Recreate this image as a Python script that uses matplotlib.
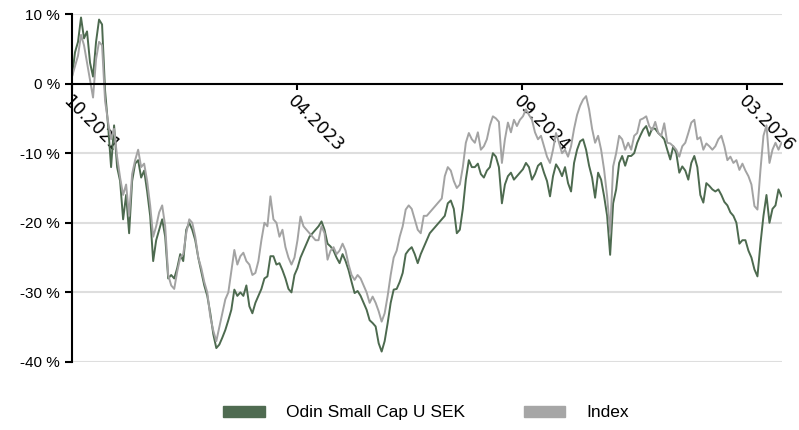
import matplotlib.pyplot as plt
import pandas as pd

plt.rcParams['font.family'] = ['Liberation Sans', 'DejaVu Sans']

# Utveckling i procent (jämnt fördelade datum)
start_datum = '2021-10-25'
slut_datum = '2026-06-05'

odin = [
    1.0, 4.5, 6.0, 9.5, 6.5, 7.5, 3.0, 1.0, 6.0, 9.2,
    8.5, -1.0, -6.0, -12.0, -6.0, -12.0, -14.0, -19.5, -16.0, -21.5,
    -14.0, -11.5, -11.0, -13.5, -12.5, -15.5, -19.0, -25.5, -22.5, -21.0,
    -19.5, -22.0, -28.0, -27.5, -28.0, -26.5, -24.5, -25.5, -21.0, -20.0,
    -21.0, -22.5, -25.0, -27.0, -29.0, -30.5, -33.0, -36.0, -38.0, -37.5,
    -36.5, -35.4, -34.0, -32.5, -29.6, -30.5, -30.0, -30.5, -29.0, -32.0,
    -33.0, -31.5, -30.5, -29.5, -28.0, -27.7, -24.8, -24.8, -26.0, -25.8,
    -26.8, -28.0, -29.5, -30.0, -27.5, -26.5, -25.0, -24.0, -23.0, -22.0,
    -21.5, -21.0, -20.5, -19.8, -21.0, -23.0, -23.4, -24.0, -25.0, -25.8,
    -24.5, -25.5, -26.8, -28.5, -30.1, -29.8, -30.5, -31.5, -32.5, -34.0,
    -34.4, -34.9, -37.3, -38.5, -37.0, -34.4, -31.5, -29.6, -29.5, -28.5,
    -27.2, -24.5, -23.9, -23.5, -24.5, -25.8, -24.5, -23.5, -22.5, -21.5,
    -21.0, -20.5, -20.0, -19.5, -19.0, -17.2, -16.8, -18.0, -21.5, -21.0,
    -18.0, -13.8, -11.0, -12.0, -12.0, -11.5, -13.0, -13.5, -12.5, -12.0,
    -10.0, -10.5, -12.0, -17.2, -14.5, -13.3, -12.8, -13.8, -13.3, -12.8,
    -12.3, -11.4, -12.0, -13.8, -13.0, -11.8, -11.4, -12.8, -14.0, -16.2,
    -13.3, -11.6, -12.3, -13.3, -12.0, -14.3, -15.5, -11.4, -9.5, -8.3,
    -8.0, -9.5, -11.8, -13.5, -16.4, -12.8, -13.8, -16.2, -19.0, -24.6,
    -17.2, -15.2, -11.4, -10.4, -11.8, -10.4, -10.4, -10.0, -8.5, -7.5,
    -6.6, -6.1, -7.5, -6.4, -6.5, -7.1, -7.5, -8.0, -9.5, -10.9,
    -9.0, -10.0, -12.8, -11.9, -12.5, -13.8, -11.4, -10.4, -12.0, -16.0,
    -17.1, -14.3, -14.7, -15.2, -15.5, -15.2, -16.0, -17.0, -17.5, -18.5,
    -19.0, -20.0, -23.0, -22.5, -22.5, -24.0, -25.0, -26.7, -27.7, -23.0,
    -19.0, -16.0, -20.0, -18.0, -17.5, -15.2, -16.2,
]

index = [
    1.0, 2.5, 4.0, 7.0, 5.5, 3.0, 0.5, -2.0, 3.5, 6.0,
    5.5, -2.5, -5.5, -8.0, -6.5, -10.5, -13.5, -16.0, -14.5, -19.0,
    -13.0, -11.0, -9.5, -12.0, -11.5, -14.0, -17.5, -22.0, -20.5, -18.5,
    -17.5, -20.5, -27.5, -29.0, -29.5, -27.0, -25.0, -24.5, -21.5, -19.5,
    -20.0, -22.0, -25.0, -26.5, -28.5, -30.0, -33.5, -35.5, -37.0, -35.0,
    -33.0, -31.0, -30.0, -27.0, -23.9, -26.0, -24.8, -24.3, -25.5, -26.0,
    -27.5, -27.2, -25.5, -22.5, -20.0, -20.5, -16.2, -19.5, -20.0, -22.0,
    -21.0, -23.5, -25.0, -26.0, -25.0, -22.5, -19.1, -20.5, -21.0, -21.5,
    -22.0, -22.5, -22.5, -20.5, -21.5, -25.3, -24.0, -23.5, -24.5, -24.0,
    -23.0, -24.0, -26.0, -27.5, -28.2, -27.5, -28.0, -29.0, -30.0, -31.5,
    -30.6, -31.5, -32.7, -34.2, -33.0, -30.5, -27.5, -25.0, -24.0, -22.0,
    -20.5, -18.1, -17.5, -18.0, -19.5, -21.0, -21.5, -19.0, -19.0, -18.5,
    -18.0, -17.5, -17.0, -16.5, -13.3, -12.0, -12.5, -14.0, -15.0, -14.5,
    -12.0, -8.5, -7.1, -8.0, -8.5, -7.0, -9.5, -9.0, -8.0, -6.0,
    -4.7, -5.0, -5.5, -11.4, -8.0, -5.6, -7.0, -5.2, -6.1, -5.2,
    -4.7, -3.7, -4.5, -5.2, -7.0, -8.0, -7.5, -9.0, -10.5, -11.4,
    -9.5, -7.1, -8.5, -10.0, -9.5, -10.5, -9.0, -6.5, -4.5, -3.2,
    -2.3, -1.8, -3.7, -6.5, -8.5, -7.5, -9.5, -12.4, -16.2, -21.4,
    -11.9, -10.0, -7.5, -8.0, -9.5, -8.5, -9.5, -7.5, -7.1, -5.2,
    -5.0, -4.7, -6.1, -6.7, -5.5, -7.1, -7.5, -5.7, -8.5, -8.6,
    -9.0, -9.5, -10.5, -9.0, -8.5, -7.1, -5.6, -5.2, -8.0, -7.7,
    -9.5, -8.6, -9.0, -9.5, -9.0, -8.0, -7.5, -9.0, -11.0, -10.5,
    -11.4, -11.0, -12.4, -11.5, -12.5, -13.3, -14.5, -17.6, -18.1, -12.4,
    -7.5, -6.0, -11.4, -9.5, -8.5, -9.5, -8.5,
]

tick_datum = ['2021-10-25', '2023-04-12', '2024-09-28', '2026-03-16']
tick_text = ['10.2021', '04.2023', '09.2024', '03.2026']
y_ticks = [-40, -30, -20, -10, 0, 10]

datum = pd.date_range(start_datum, slut_datum, periods=len(odin))

fig = plt.figure(figsize=(7.99, 4.30), dpi=100)
ax = fig.add_axes([72 / 799, 1 - 362 / 430, (781.5 - 72) / 799, (362 - 14) / 430])

ax.plot(datum, odin, color='#4d6a4f', linewidth=1.4, label='Odin Small Cap U SEK')
ax.plot(datum, index, color='#a3a3a3', linewidth=1.4, label='Index')

ax.set_ylim(-40, 10)
ax.set_xlim(datum[0], datum[-1])

ax.grid(axis='y', color='#dedede', linewidth=1.5)
ax.set_axisbelow(True)
ax.spines['top'].set_visible(False)
ax.spines['right'].set_visible(False)
ax.spines['bottom'].set_position(('data', 0))
ax.spines['bottom'].set_linewidth(1.5)
ax.spines['left'].set_linewidth(1.5)
ax.tick_params(axis='both', width=1.5, length=5, color='black')
ax.tick_params(axis='x', length=4, pad=2)

# etiketter sist, annars nollställer tick_params rotationen
ax.set_yticks(y_ticks)
ax.set_yticklabels([f'{v} %' for v in y_ticks], fontsize=11)
ax.set_xticks(pd.to_datetime(tick_datum))
ax.set_xticklabels(tick_text, fontsize=12.5, family=['DejaVu Sans'],
                   rotation=-45, ha='left', va='top', rotation_mode='anchor')

handles = [plt.Rectangle((0, 0), 1, 1, color='#4f6b51'),
           plt.Rectangle((0, 0), 1, 1, color='#a6a6a6')]
fig.legend(handles, ['Odin Small Cap U SEK', 'Index'], loc='center',
           bbox_to_anchor=(0.533, 0.04), ncol=2, frameon=False, fontsize=12.5,
           handlelength=2.4, handleheight=0.63, handletextpad=1.2,
           columnspacing=3.4)

fig.savefig('out.png', dpi=100)
